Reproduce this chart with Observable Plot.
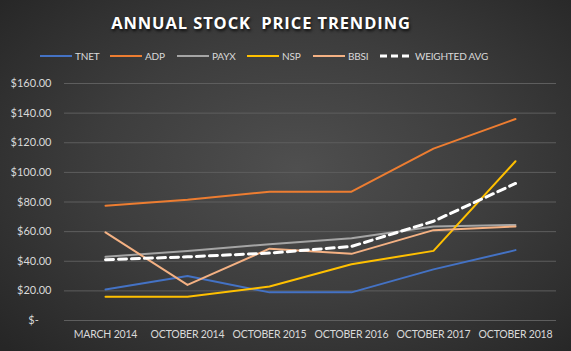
<!DOCTYPE html>
<html>
<head>
<meta charset="utf-8">
<script src="https://cdn.jsdelivr.net/npm/d3@7"></script>
<script src="https://cdn.jsdelivr.net/npm/@observablehq/plot@0.6"></script>
<style>
  html, body { margin: 0; padding: 0; }
  #wrap {
    width: 571px; height: 351px; position: relative; overflow: hidden;
    background: radial-gradient(ellipse 70% 75% at 52% 48%, #4f4f4f 0%, #3d3d3d 50%, #262626 100%);
    font-family: Lato, "Open Sans", sans-serif;
  }
  #title {
    position: absolute; left: 0; width: 522px; top: 11px; text-align: center;
    color: #ffffff; font-weight: bold; font-size: 16.5px; letter-spacing: 0.9px;
    font-family: "Open Sans", Lato, sans-serif;
    text-shadow: 1px 2px 3px rgba(0,0,0,0.8); white-space: pre;
  }
  #legend { position: absolute; top: 48px; left: 0; height: 16px; }
  .li { position: absolute; top: 0; display: flex; align-items: center; height: 16px;
        color: #d9d9d9; font-size: 10px; letter-spacing: -0.2px; white-space: nowrap; }
  .li svg { margin-right: 3px; }
  #chart { position: absolute; left: 0; top: 70px; }
</style>
</head>
<body>
<div id="wrap">
  <div id="title">ANNUAL STOCK  PRICE TRENDING</div>
  <div id="legend"></div>
  <div id="chart"></div>
</div>
<script>
const categories = ["MARCH 2014", "OCTOBER 2014", "OCTOBER 2015", "OCTOBER 2016", "OCTOBER 2017", "OCTOBER 2018"];
const seriesNames = ["TNET", "ADP", "PAYX", "NSP", "BBSI"];
const seriesColors = ["#4472C4", "#ED7D31", "#A5A5A5", "#FFC000", "#F4B183"];
const TNET = [21, 30, 19, 19, 34.5, 47.5];
const ADP  = [77.5, 81.5, 87, 87, 116, 136];
const PAYX = [43, 47, 51.5, 55.5, 63.5, 64.5];
const NSP  = [16, 16, 23, 38, 47, 107.5];
const BBSI = [59.5, 24, 48.5, 45, 61, 63.5];
const WEIGHTED = [41, 43, 45.5, 50, 67, 92.5];
const weightedName = "WEIGHTED AVG";
const yTicks = [0, 20, 40, 60, 80, 100, 120, 140, 160];

const seriesValues = [TNET, ADP, PAYX, NSP, BBSI];
const rows = [];
seriesNames.forEach((s, i) => categories.forEach((c, j) => rows.push({series: s, cat: c, value: seriesValues[i][j]})));
const wRows = categories.map((c, j) => ({cat: c, value: WEIGHTED[j]}));

const fmt = v => v === 0 ? "$-\u2007\u2007" : "$" + v.toFixed(2);

const plot = Plot.plot({
  width: 571,
  height: 281,
  marginLeft: 64,
  marginRight: 15,
  marginTop: 13,
  marginBottom: 31,
  style: {background: "transparent", fontFamily: "Lato, 'Open Sans', sans-serif", fontSize: "11px", color: "#d9d9d9"},
  x: {type: "band", domain: categories, padding: 0, label: null, tickSize: 0, tickPadding: 10},
  y: {domain: [0, 160], ticks: yTicks, tickFormat: fmt, label: null, tickSize: 0, tickPadding: 13},
  color: {domain: seriesNames, range: seriesColors},
  marks: [
    Plot.ruleY(yTicks, {stroke: "#5e5e5e", strokeWidth: 1}),
    Plot.line(rows, {x: "cat", y: "value", z: "series", stroke: "series", strokeWidth: 2}),
    Plot.line(wRows, {x: "cat", y: "value", stroke: "#ffffff", strokeWidth: 3, strokeDasharray: "8,5"})
  ]
});
plot.querySelectorAll("g[aria-label='x-axis tick label'] text").forEach(t => { t.style.fontSize = "10.5px"; t.style.letterSpacing = "-0.2px"; });
document.getElementById("chart").appendChild(plot);

// legend
const legend = document.getElementById("legend");
const legItems = seriesNames.map((s, i) => ({name: s, color: seriesColors[i], dash: null}))
  .concat([{name: weightedName, color: "#ffffff", dash: "7,4"}]);
const legX = [40, 110, 177, 247, 313, 380];
legItems.forEach((it, i) => {
  const d = document.createElement("div");
  d.className = "li";
  d.style.left = legX[i] + "px";
  d.innerHTML = `<svg width="32" height="6"><line x1="0" x2="32" y1="3" y2="3" stroke="${it.color}" stroke-width="${it.dash ? 3 : 2}" ${it.dash ? `stroke-dasharray="${it.dash}"` : ""}/></svg>${it.name}`;
  legend.appendChild(d);
});
</script>
</body>
</html>
